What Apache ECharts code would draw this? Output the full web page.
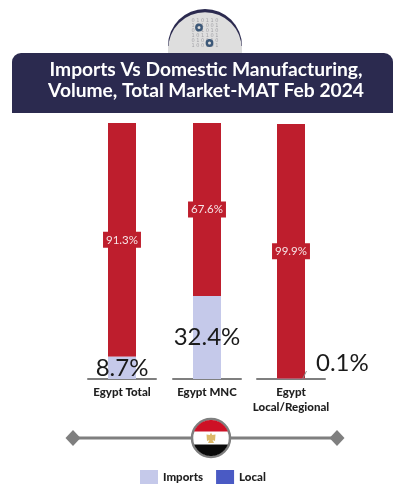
<!DOCTYPE html>
<html>
<head>
<meta charset="utf-8">
<style>html,body{margin:0;padding:0;background:#fff}#c{width:397px;height:485px}</style>
<script src="https://cdn.jsdelivr.net/npm/echarts@6/dist/echarts.min.js"></script>
</head>
<body>
<div id="c"></div>
<script>
const categories = ['Egypt Total', 'Egypt MNC', 'Egypt\nLocal/Regional'];
const importsShare = [8.7, 32.4, 0.1];
const localShare = [91.3, 67.6, 99.9];
const legendNames = ['Imports', 'Local'];
const titleLines = 'Imports Vs Domestic Manufacturing,\nVolume, Total Market-MAT Feb 2024';
const binaryRows = ['0 1 0 1 1 0', '1 0 1 0 0 1', '0 1 1 0 1 0', '1 0 1 1 0 1', '0 1 0 0 1 0', '1 0 0 1 0 1'];

const RED = '#be1e2d', LILAC = '#c5c9ea', BLUE = '#4a5ac4', NAVY = '#2b2a4f', GREY = '#7f7f7f';
const FONT = 'Lato, "Open Sans", sans-serif';

const panels = [
  {left: 88, top: 123},
  {left: 173, top: 123},
  {left: 257, top: 124}
];
const grids = panels.map(p => ({left: p.left, top: p.top, width: 68, height: 379 - p.top, containLabel: false}));
const xAxes = categories.map((c, i) => ({
  type: 'category', gridIndex: i, data: [c],
  axisTick: {show: false},
  axisLine: {lineStyle: {color: GREY, width: 2}},
  axisLabel: {color: '#1f1f1f', fontFamily: FONT, fontWeight: 900, fontSize: 11.5, lineHeight: 15, margin: 6}
}));
const yAxes = categories.map((c, i) => ({type: 'value', gridIndex: i, min: 0, max: 100, show: false}));

const series = [];
categories.forEach((c, i) => {
  const tiny = importsShare[i] < 1;
  series.push({
    type: 'bar', name: legendNames[0], stack: 's' + i, xAxisIndex: i, yAxisIndex: i,
    barWidth: 28, z: 3,
    itemStyle: {color: LILAC},
    data: [importsShare[i]],
    label: {
      show: true, color: '#1a1a1a', fontFamily: FONT, fontSize: 24,
      formatter: p => p.value + '%',
      position: tiny ? 'right' : 'inside',
      distance: tiny ? 5 : 0
    },
    labelLayout: tiny ? {dx: 6, dy: -16} : undefined
  });
  series.push({
    type: 'bar', name: legendNames[1], stack: 's' + i, xAxisIndex: i, yAxisIndex: i,
    barWidth: 28, z: 2,
    itemStyle: {color: BLUE},
    data: [{value: localShare[i], itemStyle: {color: RED}}],
    label: {
      show: true, position: 'inside', color: '#f6e4e6', fontFamily: FONT, fontSize: 11.5,
      backgroundColor: RED, padding: [2, 3],
      formatter: p => p.value + '%'
    }
  });
});

// Flag disc: three bands, with the outer two cut along the circle
const fx = 211, fy = 438, fr = 18;
function capPoints(sign) {
  const band = 6.5, start = Math.asin(band / fr), end = Math.PI - start, pts = [];
  for (let k = 0; k <= 40; k++) {
    const a = start + (end - start) * k / 40;
    pts.push([fx + fr * Math.cos(a), fy + sign * fr * Math.sin(a)]);
  }
  return pts;
}

const graphic = [
  // header emblem
  {type: 'circle', shape: {cx: 205, cy: 46, r: 37}, style: {fill: NAVY}, z: 1},
  {type: 'circle', shape: {cx: 205, cy: 49, r: 36.8}, style: {fill: '#dedede'}, z: 2},
  {type: 'rect', shape: {x: 168, y: 46, width: 74, height: 8}, style: {fill: '#dedede'}, z: 2},
  ...binaryRows.map((row, i) => ({
    type: 'text', z: 3, x: 205, y: 20.5 + i * 5.1,
    style: {text: row, fill: '#a3a3a8', font: '5px "DejaVu Sans"', align: 'center', verticalAlign: 'middle'}
  })),
  {type: 'ring', z: 4, shape: {cx: 199, cy: 27.5, r: 3.9, r0: 1.5}, style: {fill: '#3c5878'}},
  {type: 'ring', z: 4, shape: {cx: 209.5, cy: 43, r: 3.9, r0: 1.5}, style: {fill: '#3c5878'}},
  // title panel
  {type: 'rect', z: 5, shape: {x: 12, y: 53, width: 381, height: 60, r: [9, 9, 0, 0]}, style: {fill: NAVY}},
  {type: 'text', z: 6, x: 206, y: 80, style: {
    text: titleLines, fill: '#fff', font: '700 19.2px ' + FONT, lineHeight: 21, align: 'center', verticalAlign: 'middle'
  }},
  // short leader beside the smallest share
  {type: 'line', z: 4, shape: {x1: 302.5, y1: 379, x2: 306.5, y2: 371}, style: {stroke: '#8a8a8a', lineWidth: 1}},
  // connector with end diamonds and flag
  {type: 'line', z: 1, shape: {x1: 73, y1: 438, x2: 337, y2: 438}, style: {stroke: GREY, lineWidth: 3}},
  {type: 'polygon', z: 2, shape: {points: [[73, 430], [80.5, 438], [73, 446], [65.5, 438]]}, style: {fill: GREY}},
  {type: 'polygon', z: 2, shape: {points: [[337, 430], [344.5, 438], [337, 446], [329.5, 438]]}, style: {fill: GREY}},
  {type: 'circle', z: 3, shape: {cx: fx, cy: fy, r: 19}, style: {fill: '#fff', stroke: GREY, lineWidth: 2.5}},
  {type: 'polygon', z: 4, shape: {points: capPoints(-1)}, style: {fill: '#ce1126'}},
  {type: 'polygon', z: 4, shape: {points: capPoints(1)}, style: {fill: '#0a0a0a'}},
  {type: 'polygon', z: 5, shape: {points: [[fx - 4.5, fy - 3.5], [fx - 1.2, fy - 3], [fx, fy - 5.5], [fx + 1.2, fy - 3], [fx + 4.5, fy - 3.5], [fx + 4, fy + 3], [fx + 1.5, fy + 2], [fx + 3, fy + 5], [fx - 3, fy + 5], [fx - 1.5, fy + 2], [fx - 4, fy + 3]]}, style: {fill: '#dcb96a'}}
];

const chart = echarts.init(document.getElementById('c'), null, {renderer: 'canvas'});
chart.setOption({
  animation: false,
  backgroundColor: '#fff',
  grid: grids,
  xAxis: xAxes,
  yAxis: yAxes,
  series,
  graphic,
  legend: {
    left: 140, top: 470, padding: 0, itemWidth: 18, itemHeight: 14, itemGap: 13,
    icon: 'rect',
    selectedMode: false,
    textStyle: {color: '#1f1f1f', fontFamily: FONT, fontWeight: 900, fontSize: 11.5},
    data: [
      {name: legendNames[0], itemStyle: {color: LILAC}},
      {name: legendNames[1], itemStyle: {color: BLUE}}
    ]
  }
});
</script>
</body>
</html>
